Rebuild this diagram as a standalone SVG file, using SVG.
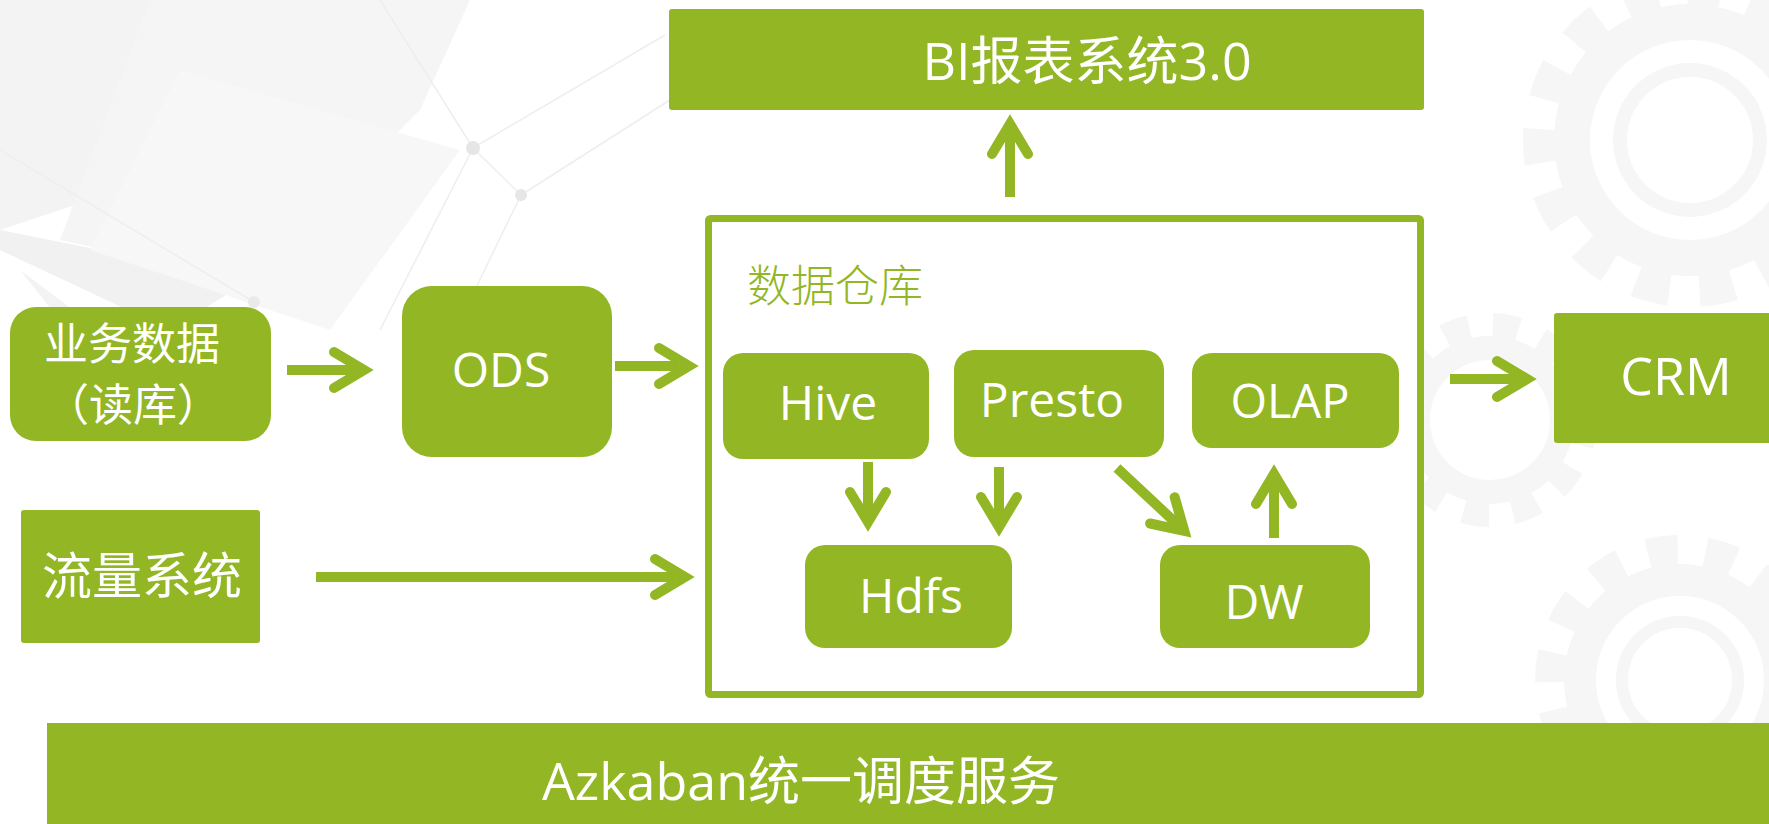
<svg xmlns="http://www.w3.org/2000/svg" width="1769" height="824" viewBox="0 0 1769 824">
<style>
.box{fill:#92b624}
.lbl{fill:#ffffff;font-family:"Open Sans","Noto Sans CJK SC",sans-serif;text-anchor:middle}
.cjk{fill:#ffffff;font-family:"Noto Sans CJK SC",sans-serif;text-anchor:middle}
.shaft{stroke:#92b624;stroke-width:10;fill:none;marker-end:url(#chev)}
</style>
<defs>
<marker id="chev" markerUnits="userSpaceOnUse" orient="auto" markerWidth="80" markerHeight="80" refX="0" refY="0" viewBox="-40 -40 80 80" overflow="visible">
<path d="M-20,-18 L10,0 L-20,18" fill="none" stroke="#92b624" stroke-width="10" stroke-linecap="round" stroke-linejoin="miter"/>
</marker>
</defs>
<rect width="1769" height="824" fill="#ffffff"/>
<g id="background">
<polygon points="0,0 420,0 330,120 0,230" fill="#f3f3f3"/>
<polygon points="150,0 470,0 420,110 250,280 60,240" fill="#f5f5f5"/>
<polygon points="0,230 250,280 170,330 0,250" fill="#f1f1f1"/>
<polygon points="180,70 460,150 330,330 90,250" fill="#f7f7f7"/>
<polygon points="20,270 100,330 160,370 60,320" fill="#f3f3f3"/>
<g stroke="#eeeeee" stroke-width="1.5" fill="none">
<line x1="380" y1="0" x2="473" y2="148"/>
<line x1="473" y1="148" x2="521" y2="195"/>
<line x1="473" y1="148" x2="380" y2="330"/>
<line x1="521" y1="195" x2="470" y2="300"/>
<line x1="473" y1="148" x2="665" y2="35"/>
<line x1="521" y1="195" x2="670" y2="100"/>
<line x1="0" y1="150" x2="254" y2="302"/>
</g>
<circle cx="473" cy="148" r="7" fill="#e6e6e6"/>
<circle cx="521" cy="195" r="6" fill="#e6e6e6"/>
<circle cx="254" cy="302" r="6" fill="#eaeaea"/>
<g fill="none" stroke="#f6f6f6">
<circle cx="1690" cy="140" r="150" stroke-width="34" stroke-dasharray="34 30"/>
<circle cx="1690" cy="140" r="118" stroke-width="36"/>
<circle cx="1690" cy="140" r="70" stroke-width="14"/>
<circle cx="1680" cy="680" r="130" stroke-width="30" stroke-dasharray="30 28"/>
<circle cx="1680" cy="680" r="100" stroke-width="32"/>
<circle cx="1680" cy="680" r="58" stroke-width="12"/>
<circle cx="1490" cy="420" r="95" stroke-width="24" stroke-dasharray="26 24"/>
<circle cx="1490" cy="420" r="72" stroke-width="24"/>
</g>
</g>
<g id="node-dw-container">
<rect x="708.5" y="218.5" width="712" height="476" fill="#ffffff" stroke="#92b624" stroke-width="7" rx="2"/>
<text x="747" y="302" font-size="44" fill="#92b624" font-family="Noto Sans CJK SC,sans-serif" font-weight="300">数据仓库</text>
</g>
<g id="connectors">
<path class="shaft" d="M287,370 L354,370"/>
<path class="shaft" d="M615,366 L679,366"/>
<path class="shaft" d="M316,577 L675,577"/>
<path class="shaft" d="M1450,379 L1517,379"/>
<path class="shaft" d="M1010,197 L1010,134"/>
<path class="shaft" d="M868,462 L868,512"/>
<path class="shaft" d="M999,467 L999,517"/>
<path class="shaft" d="M1117,468 L1177,524"/>
<path class="shaft" d="M1274,538 L1274,484"/>
</g>
<g id="node-yewu">
<rect class="box" x="10" y="307" width="261" height="134" rx="26"/>
<text class="cjk" x="132" y="360" font-size="44">业务数据</text>
<text class="cjk" x="133" y="421" font-size="44">（读库）</text>
</g>
<g id="node-liuliang">
<rect class="box" x="21" y="510" width="239" height="133" rx="3"/>
<text class="cjk" x="142" y="594" font-size="50">流量系统</text>
</g>
<g id="node-ods">
<rect class="box" x="402" y="286" width="210" height="171" rx="30"/>
<text class="lbl" x="501" y="387" font-size="48">ODS</text>
</g>
<g id="node-bi">
<rect class="box" x="669" y="9" width="755" height="101" rx="3"/>
<text class="lbl" x="1087" y="80" font-size="52">BI报表系统3.0</text>
</g>
<g id="node-hive">
<rect class="box" x="723" y="353" width="206" height="106" rx="20"/>
<text class="lbl" x="828" y="420" font-size="48">Hive</text>
</g>
<g id="node-presto">
<rect class="box" x="954" y="350" width="210" height="107" rx="20"/>
<text class="lbl" x="1052" y="417" font-size="48">Presto</text>
</g>
<g id="node-olap">
<rect class="box" x="1192" y="353" width="207" height="95" rx="20"/>
<text class="lbl" x="1290" y="418" font-size="47">OLAP</text>
</g>
<g id="node-hdfs">
<rect class="box" x="805" y="545" width="207" height="103" rx="20"/>
<text class="lbl" x="911" y="613" font-size="48">Hdfs</text>
</g>
<g id="node-dw">
<rect class="box" x="1160" y="545" width="210" height="103" rx="20"/>
<text class="lbl" x="1264" y="619" font-size="48">DW</text>
</g>
<g id="node-crm">
<rect class="box" x="1554" y="313" width="230" height="130" rx="3"/>
<text class="lbl" x="1676" y="395" font-size="52">CRM</text>
</g>
<g id="node-azkaban">
<rect class="box" x="47" y="723" width="1740" height="110"/>
<text class="lbl" x="801" y="800" font-size="52">Azkaban统一调度服务</text>
</g>
</svg>
